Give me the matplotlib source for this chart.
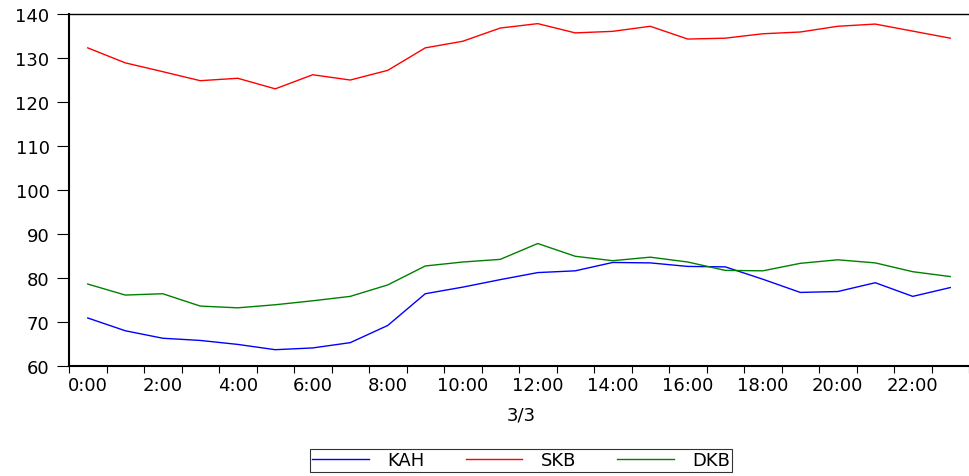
import matplotlib
matplotlib.use("Agg")
import matplotlib.pyplot as plt
import numpy as np

plt.rcParams['font.family'] = ['DejaVu Sans']

hours = list(range(24))
tick_labels = [f"{h}:00" for h in range(0, 24, 2)]

kah = [70.9, 68.0, 66.3, 65.8, 64.9, 63.7, 64.1, 65.3, 69.2, 76.4, 77.9, 79.6,
       81.2, 81.6, 83.5, 83.4, 82.6, 82.5, 79.7, 76.7, 76.9, 78.9, 75.8, 77.8]
skb = [132.2, 128.8, 126.8, 124.75, 125.3, 122.9, 126.1, 124.9, 127.1, 132.2, 133.7, 136.7,
       137.7, 135.6, 135.95, 137.1, 134.2, 134.4, 135.4, 135.8, 137.1, 137.6, 136.0, 134.4]
dkb = [78.6, 76.1, 76.4, 73.6, 73.2, 73.9, 74.8, 75.8, 78.4, 82.7, 83.6, 84.2,
       87.8, 84.9, 83.9, 84.7, 83.6, 81.7, 81.6, 83.3, 84.1, 83.4, 81.4, 80.3]

fs = 13

fig = plt.figure(figsize=(9.69, 4.77), dpi=100)
ax = fig.add_axes([69/969, 1-367/477, 1-69/969, (367-14.5)/477])

l1, = ax.plot(hours, kah, color='#0000ff', lw=1.0, label='KAH')
l2, = ax.plot(hours, skb, color='#ff0000', lw=1.0, label='SKB')
l3, = ax.plot(hours, dkb, color='#008000', lw=1.0, label='DKB')

ax.set_xlim(-0.5, 23.37)
ax.set_ylim(60, 140)
ax.set_yticks(range(60, 141, 10))
ax.set_xticks(np.arange(-0.5, 24, 1), minor=False)
ax.set_xticklabels([])
ax.set_xticks(range(0, 24, 2), minor=True)
ax.set_xticklabels(tick_labels, minor=True)
ax.tick_params(axis='x', which='major', direction='out', length=5, width=0.8, color='black')
ax.tick_params(axis='x', which='minor', length=0, pad=7, labelsize=fs)
ax.tick_params(axis='y', direction='out', length=9, width=0.8, pad=5, labelsize=fs)

for s in ['left', 'bottom']:
    ax.spines[s].set_linewidth(1.5)
ax.spines['top'].set_linewidth(1.0)
ax.spines['right'].set_visible(False)

fig.text(521/969, 1-416/477, '3/3', ha='center', va='center', fontsize=fs)

leg = fig.legend(handles=[l1, l2, l3], loc='center', bbox_to_anchor=(521/969, 1-461.5/477),
                 ncol=3, frameon=True, fancybox=False, edgecolor='black', fontsize=fs,
                 handlelength=3.15, columnspacing=2.3, borderpad=0.12, handletextpad=1.0,
                 borderaxespad=0)
leg.get_frame().set_linewidth(0.8)

fig.savefig('out.png', dpi=100)
